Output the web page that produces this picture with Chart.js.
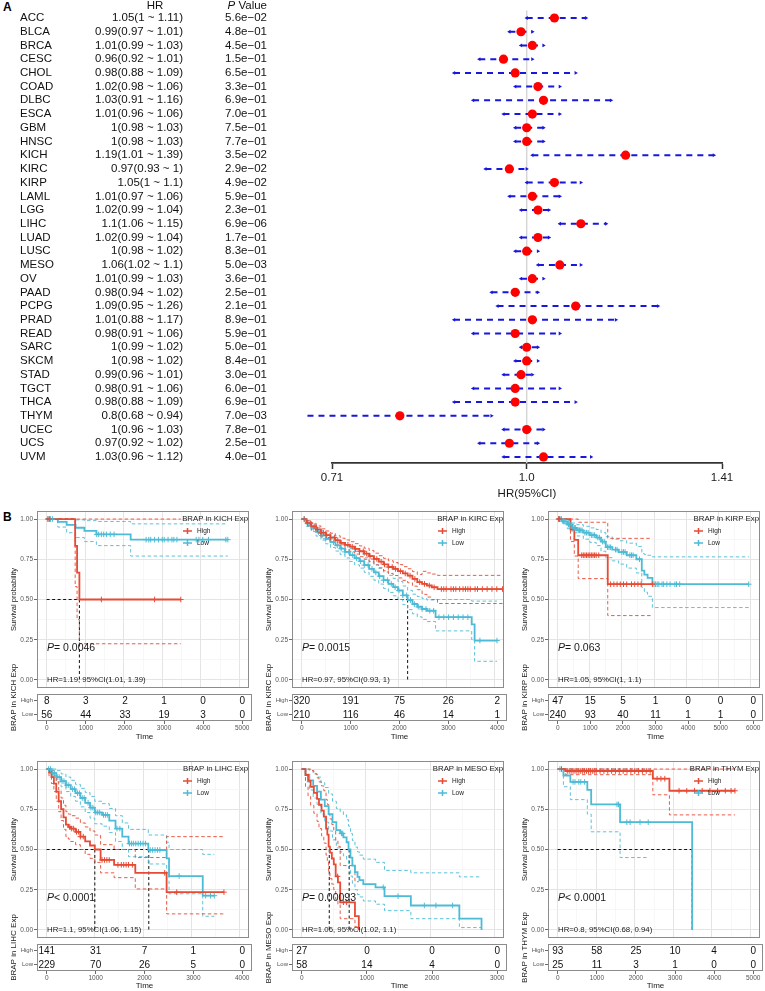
<!DOCTYPE html>
<html><head><meta charset="utf-8">
<script src="https://cdn.jsdelivr.net/npm/chart.js@4.4.1/dist/chart.umd.min.js"></script>
<style>
html,body{margin:0;padding:0;background:#fff;overflow:hidden;width:765px;height:991px;position:relative;}
.lab{position:absolute;font:bold 12px "Liberation Sans",Arial,sans-serif;color:#000;}
</style></head><body>
<div class="lab" style="left:3px;top:0px">A</div>
<div class="lab" style="left:3px;top:510px">B</div>
<script>
// ---------------- Forest plot data ----------------
const cancers = ['ACC','BLCA','BRCA','CESC','CHOL','COAD','DLBC','ESCA','GBM','HNSC','KICH','KIRC','KIRP','LAML','LGG','LIHC','LUAD','LUSC','MESO','OV','PAAD','PCPG','PRAD','READ','SARC','SKCM','STAD','TGCT','THCA','THYM','UCEC','UCS','UVM'];
const hr     = [1.05,0.99,1.01,0.96,0.98,1.02,1.03,1.01,1,1,1.19,0.97,1.05,1.01,1.02,1.1,1.02,1,1.06,1.01,0.98,1.09,1.01,0.98,1,1,0.99,0.98,0.98,0.8,1,0.97,1.03];
const ciLow  = [1,0.97,0.99,0.92,0.88,0.98,0.91,0.96,0.98,0.98,1.01,0.93,1,0.97,0.99,1.06,0.99,0.98,1.02,0.99,0.94,0.95,0.88,0.91,0.99,0.98,0.96,0.91,0.88,0.68,0.96,0.92,0.96];
const ciHigh = [1.11,1.01,1.03,1.01,1.09,1.06,1.16,1.06,1.03,1.03,1.39,1,1.1,1.06,1.04,1.15,1.04,1.02,1.1,1.03,1.02,1.26,1.17,1.06,1.02,1.02,1.01,1.06,1.09,0.94,1.03,1.02,1.12];
const pvals  = ['5.6e\u221202','4.8e\u221201','4.5e\u221201','1.5e\u221201','6.5e\u221201','3.3e\u221201','6.9e\u221201','7.0e\u221201','7.5e\u221201','7.7e\u221201','3.5e\u221202','2.9e\u221202','4.9e\u221202','5.9e\u221201','2.3e\u221201','6.9e\u221206','1.7e\u221201','8.3e\u221201','5.0e\u221203','3.6e\u221201','2.5e\u221201','2.1e\u221201','8.9e\u221201','5.9e\u221201','5.0e\u221201','8.4e\u221201','3.0e\u221201','6.0e\u221201','6.9e\u221201','7.0e\u221203','7.8e\u221201','2.5e\u221201','4.0e\u221201'];
const forestTicks = [0.71,1.0,1.41];
const forestTickLabels = ['0.71','1.0','1.41'];

// ---------------- KM survival data ----------------
const survTicks = [0,0.25,0.5,0.75,1];
const survTickLabels = ['0.00','0.25','0.50','0.75','1.00'];

// KICH
const kichTicks = [0,1000,2000,3000,4000,5000];
const kichRiskHigh = [8,3,2,1,0,0];
const kichRiskLow  = [56,44,33,19,3,0];
const kichHighTime  = [0,740,790,850,3480];
const kichHighSurv  = [1,0.833,0.667,0.5,0.5];
const kichHighUpper = [1,1,1,1,1];
const kichHighLower = [1,0.58,0.375,0.225,0.225];
const kichHighCens  = [30,70,1420,2800,3480];
const kichLowTime  = [0,290,520,750,980,1290,2180,4700];
const kichLowSurv  = [1,0.982,0.964,0.946,0.927,0.905,0.872,0.872];
const kichLowUpper = [1,1,1,0.995,0.99,0.985,0.97,0.97];
const kichLowLower = [1,0.95,0.915,0.885,0.86,0.835,0.77,0.77];
const kichLowCens  = [60,100,150,1300,1350,1420,1480,1550,1650,1750,2580,2650,2700,2800,2900,3000,3050,3150,3250,3300,3380,3880,3950,4050,4200,4650,4700];
const kichMedian = [850];

// KIRC
const kircTicks = [0,1000,2000,3000,4000];
const kircRiskHigh = [320,191,75,26,2];
const kircRiskLow  = [210,116,46,14,1];
const kircHighTime  = [0,100,200,300,400,500,600,700,800,900,1000,1100,1200,1300,1400,1500,1600,1700,1800,1900,2000,2100,2200,2300,2400,2500,2600,2700,2820,4170];
const kircHighSurv  = [1,0.975,0.955,0.935,0.915,0.9,0.885,0.868,0.852,0.84,0.828,0.815,0.8,0.785,0.77,0.752,0.735,0.718,0.702,0.69,0.676,0.662,0.648,0.628,0.608,0.597,0.587,0.576,0.565,0.565];
const kircHighUpper = [1,0.99,0.975,0.957,0.939,0.926,0.912,0.896,0.881,0.87,0.859,0.847,0.833,0.819,0.805,0.788,0.772,0.756,0.741,0.73,0.717,0.704,0.691,0.673,0.655,0.675,0.665,0.658,0.65,0.65];
const kircHighLower = [1,0.958,0.934,0.912,0.89,0.873,0.857,0.839,0.822,0.809,0.796,0.782,0.766,0.75,0.734,0.715,0.697,0.679,0.662,0.649,0.634,0.619,0.604,0.583,0.561,0.532,0.515,0.5,0.475,0.475];
const kircHighCens  = [50,120,180,260,330,400,450,520,600,680,750,820,900,960,1050,1120,1200,1280,1350,1420,1500,1560,1650,1720,1800,1880,1950,2050,2150,2250,2350,2450,2550,2650,2750,2900,2950,3000,3100,3150,3200,3280,3350,3400,3450,3500,3600,3650,3750,3850,3950,4050,4170];
const kircLowTime  = [0,100,200,300,400,500,600,700,800,900,1000,1100,1200,1300,1400,1500,1600,1700,1800,1900,2000,2100,2200,2300,2400,2500,2600,2780,3530,3590,4055];
const kircLowSurv  = [1,0.972,0.945,0.92,0.898,0.877,0.856,0.836,0.816,0.796,0.776,0.757,0.738,0.714,0.69,0.668,0.645,0.62,0.597,0.577,0.556,0.526,0.497,0.472,0.455,0.441,0.43,0.39,0.345,0.245,0.245];
const kircLowUpper = [1,0.99,0.968,0.946,0.927,0.908,0.889,0.871,0.853,0.834,0.816,0.799,0.781,0.759,0.736,0.716,0.694,0.671,0.65,0.631,0.612,0.584,0.557,0.533,0.518,0.506,0.497,0.5,0.49,0.49,0.49];
const kircLowLower = [1,0.954,0.922,0.894,0.869,0.846,0.823,0.801,0.779,0.758,0.736,0.715,0.695,0.669,0.644,0.62,0.596,0.569,0.544,0.523,0.5,0.468,0.437,0.411,0.392,0.376,0.363,0.305,0.25,0.116,0.116];
const kircLowCens  = [60,150,250,350,420,500,580,660,740,820,900,980,1060,1140,1220,1300,1380,1460,1540,1620,1700,1780,1860,1940,2020,2100,2180,2260,2340,2420,2500,2580,2660,2740,2850,2950,3050,3150,3250,3350,3450,3700,4055];
const kircMedian = [2200];

// KIRP
const kirpTicks = [0,1000,2000,3000,4000,5000,6000];
const kirpRiskHigh = [47,15,5,1,0,0,0];
const kirpRiskLow  = [240,93,40,11,1,1,0];
const kirpHighTime  = [0,400,520,640,1560,2950];
const kirpHighSurv  = [1,0.935,0.87,0.775,0.595,0.595];
const kirpHighUpper = [1,1,1,0.98,0.88,0.88];
const kirpHighLower = [1,0.86,0.77,0.63,0.4,0.4];
const kirpHighCens  = [30,60,750,800,850,900,950,1000,1050,1100,1150,1200,1280,1650,1750,1850,1950,2050,2150,2300,2400,2500,2600,2950];
const kirpLowTime  = [0,150,300,450,600,800,1000,1200,1350,1500,1700,1900,2150,2450,2620,2700,2800,2950,5950];
const kirpLowSurv  = [1,0.985,0.965,0.945,0.93,0.915,0.9,0.885,0.86,0.825,0.81,0.795,0.775,0.75,0.68,0.655,0.635,0.595,0.595];
const kirpLowUpper = [1,1,0.99,0.975,0.965,0.955,0.945,0.935,0.915,0.89,0.875,0.865,0.85,0.83,0.785,0.78,0.775,0.765,0.765];
const kirpLowLower = [1,0.97,0.94,0.915,0.895,0.875,0.855,0.835,0.8,0.76,0.74,0.72,0.695,0.665,0.575,0.545,0.52,0.45,0.45];
const kirpLowCens  = [40,80,120,180,220,260,340,380,420,480,520,560,640,680,720,760,850,900,950,1050,1100,1150,1250,1300,1400,1450,1550,1600,1650,1800,1850,2000,2050,2100,2250,2300,2350,2550,3000,3050,3100,3150,3250,3300,3400,3500,3650,3700,3800,5950];
const kirpMedian = [];

// LIHC
const lihcTicks = [0,1000,2000,3000,4000];
const lihcRiskHigh = [141,31,7,1,0];
const lihcRiskLow  = [229,70,26,5,0];
const lihcHighTime  = [0,50,100,150,200,250,300,350,400,450,500,600,700,800,900,1000,1120,1400,1840,2490,3680];
const lihcHighSurv  = [1,0.98,0.95,0.91,0.86,0.8,0.75,0.7,0.655,0.64,0.63,0.61,0.58,0.55,0.525,0.5,0.435,0.405,0.355,0.235,0.235];
const lihcHighUpper = [1,1,0.99,0.96,0.92,0.87,0.82,0.775,0.735,0.72,0.71,0.695,0.665,0.64,0.615,0.59,0.53,0.5,0.45,0.58,0.58];
const lihcHighLower = [1,0.955,0.91,0.86,0.8,0.735,0.68,0.625,0.58,0.565,0.55,0.53,0.5,0.47,0.445,0.42,0.355,0.325,0.255,0.1,0.1];
const lihcHighCens  = [480,520,560,620,660,700,760,1150,1200,1250,1300,1480,1550,1600,1650,1700,1780,2450,2700,3680];
const lihcLowTime  = [0,100,200,300,400,500,600,700,800,900,1000,1150,1300,1430,1570,1700,2110,2490,2540,3240,3480];
const lihcLowSurv  = [1,0.975,0.95,0.925,0.9,0.875,0.85,0.82,0.79,0.76,0.73,0.715,0.68,0.63,0.58,0.537,0.497,0.445,0.335,0.213,0.213];
const lihcLowUpper = [1,1,0.99,0.97,0.95,0.93,0.905,0.88,0.855,0.83,0.8,0.785,0.755,0.71,0.665,0.625,0.59,0.545,0.5,0.47,0.47];
const lihcLowLower = [1,0.955,0.92,0.89,0.86,0.83,0.8,0.765,0.73,0.695,0.66,0.645,0.605,0.55,0.5,0.455,0.41,0.355,0.225,0.085,0.085];
const lihcLowCens  = [40,80,120,160,220,260,320,360,420,460,540,580,640,680,740,780,860,920,960,1020,1060,1100,1180,1220,1260,1460,1520,1720,1760,1800,1850,1900,1950,2000,2050,2150,2200,2250,2300,2350,2750,3300,3400,3480];
const lihcMedian = [1000,2120];

// MESO
const mesoTicks = [0,1000,2000,3000];
const mesoRiskHigh = [27,0,0,0];
const mesoRiskLow  = [58,14,4,0];
const mesoHighTime  = [0,60,100,140,190,240,270,310,345,380,400,420,440,470,500,530,565,600,830,890];
const mesoHighSurv  = [1,0.963,0.926,0.889,0.852,0.815,0.778,0.741,0.704,0.63,0.593,0.518,0.481,0.444,0.407,0.333,0.296,0.172,0.086,0];
const mesoHighUpper = [1,1,1,0.99,0.97,0.945,0.92,0.895,0.865,0.81,0.78,0.72,0.69,0.655,0.62,0.555,0.52,0.4,0.3,0.3];
const mesoHighLower = [1,0.89,0.83,0.775,0.725,0.675,0.63,0.585,0.54,0.465,0.425,0.355,0.32,0.285,0.25,0.19,0.16,0.07,0.02,0.02];
const mesoHighCens  = [560,650,700];
const mesoLowTime  = [0,60,120,180,240,300,360,420,480,540,600,650,700,730,760,790,830,870,900,960,1150,1290,1700,2455,2800];
const mesoLowSurv  = [1,0.965,0.93,0.895,0.86,0.81,0.77,0.72,0.67,0.62,0.6,0.575,0.545,0.5,0.45,0.4,0.36,0.33,0.31,0.285,0.265,0.21,0.152,0.071,0];
const mesoLowUpper = [1,1,0.99,0.97,0.95,0.915,0.885,0.845,0.8,0.755,0.735,0.715,0.685,0.645,0.6,0.555,0.515,0.485,0.465,0.44,0.42,0.37,0.355,0.33,0.33];
const mesoLowLower = [1,0.92,0.87,0.82,0.78,0.72,0.67,0.615,0.56,0.51,0.485,0.46,0.43,0.385,0.335,0.29,0.25,0.22,0.205,0.18,0.16,0.12,0.07,0.015,0.015];
const mesoLowCens  = [620,640,1270,1500,1910,2090,2350];
const mesoMedian = [430,740];

// THYM
const thymTicks = [0,1000,2000,3000,4000,5000];
const thymRiskHigh = [93,58,25,10,4,0];
const thymRiskLow  = [25,11,3,1,0,0];
const thymHighTime  = [0,200,2470,2900,4600];
const thymHighSurv  = [1,0.988,0.94,0.865,0.865];
const thymHighUpper = [1,1,1,1,1];
const thymHighLower = [1,0.965,0.84,0.715,0.715];
const thymHighCens  = [100,250,300,350,400,450,500,550,600,650,700,750,800,850,900,950,1000,1100,1200,1300,1400,1500,1600,1700,1800,1900,2000,2100,2200,2300,2400,2580,2680,2780,3150,3350,3550,3750,3950,4150,4350,4500,4600];
const thymLowTime  = [0,150,330,770,870,1620,3490];
const thymLowSurv  = [1,0.96,0.92,0.87,0.78,0.67,0];
const thymLowCiTime = [0,150,330,770,870,1620,2370];
const thymLowUpper = [1,1,1,1,1,1,1];
const thymLowLower = [1,0.89,0.81,0.72,0.61,0.45,0.45];
const thymLowCens  = [60,400,450,550,600,700,1540,1580,1795,1880,2137,2350];
const thymMedian = [3490];

const kmPText = ['= 0.0046','= 0.0015','= 0.063','< 0.0001','= 0.00093','< 0.0001'];

// ---------------- styling / helpers ----------------
const RED = '#E64B35', BLUE = '#4DBBD5', CIBLUE = '#1717dd';
const FONT = '"Liberation Sans", Arial, Helvetica, sans-serif';
Chart.defaults.font.family = FONT;
Chart.defaults.color = '#1a1a1a';

function mkCanvas(left, top, w, h){
  const c = document.createElement('canvas');
  c.width = w; c.height = h;
  c.style.cssText = `position:absolute;left:${left}px;top:${top}px;width:${w}px;height:${h}px;`;
  document.body.appendChild(c);
  return c;
}
function survAt(t, s, x){ let v = s[0]; for (let i=0;i<t.length;i++){ if (t[i] <= x) v = s[i]; } return v; }

// ---------------- Forest plot ----------------
const forestText = {
  id:'forestText',
  afterDraw(chart){
    const ctx = chart.ctx, ys = chart.scales.y;
    ctx.save();
    ctx.fillStyle = '#111';
    ctx.font = '11.5px ' + FONT;
    ctx.textBaseline = 'middle';
    cancers.forEach((c,i)=>{
      const y = ys.getPixelForValue(i);
      ctx.textAlign = 'left';  ctx.fillText(c, 20, y);
      ctx.textAlign = 'right'; ctx.fillText(`${hr[i]}(${ciLow[i]} ~ ${ciHigh[i]})`, 183, y);
      ctx.fillText(pvals[i], 267, y);
    });
    const hy = 5.5;
    ctx.textAlign = 'center'; ctx.fillText('HR', 155, hy);
    ctx.textAlign = 'left';
    const w2 = ctx.measureText(' Value').width;
    ctx.font = 'italic 11.5px ' + FONT;
    const w1 = ctx.measureText('P').width;
    const x0 = 267 - w1 - w2;
    ctx.fillText('P', x0, hy);
    ctx.font = '11.5px ' + FONT;
    ctx.fillText(' Value', x0 + w1, hy);
    ctx.restore();
  }
};

const forestDatasets = [
  {data: hr.map((v,i)=>({x:v,y:i})), showLine:false, pointRadius:4.6, pointBackgroundColor:'#ff0000', pointBorderWidth:0, order:0, clip:false}
];
cancers.forEach((c,i)=>forestDatasets.push({
  data:[{x:ciLow[i],y:i},{x:ciHigh[i],y:i}], showLine:true, borderColor:CIBLUE, borderWidth:2, borderDash:[6,5],
  pointRadius:2.2, pointStyle:'triangle', pointRotation:[-90,90], pointBackgroundColor:CIBLUE, pointBorderWidth:0, order:1, clip:false
}));
forestDatasets.push({data:[{x:1,y:-0.55},{x:1,y:32.44}], showLine:true, borderColor:'#d6d6d6', borderWidth:1.5, pointRadius:0, order:2});

new Chart(mkCanvas(0,0,765,505), {
  type:'line',
  data:{datasets:forestDatasets},
  options:{
    responsive:false, animation:false, events:[], devicePixelRatio:1,
    layout:{padding:{left:332,right:43,top:8,bottom:0}},
    plugins:{legend:{display:false},tooltip:{enabled:false}},
    scales:{
      x:{type:'logarithmic', min:0.71, max:1.41, position:'bottom',
        afterBuildTicks:s=>{ s.ticks = forestTicks.map(v=>({value:v})); },
        afterFit:s=>{ s.height = 42; },
        ticks:{autoSkip:false, maxRotation:0, padding:2, font:{size:11.5}, color:'#1a1a1a', callback:(v,i)=>forestTickLabels[i]},
        grid:{display:true, drawOnChartArea:false, drawTicks:true, tickLength:6, color:'#333', tickWidth:1.5},
        border:{display:true, color:'#333', width:1.8},
        title:{display:true, text:'HR(95%CI)', font:{size:11.5}, color:'#1a1a1a', padding:{top:0,bottom:4}}
      },
      y:{type:'linear', min:-0.73, max:32.44, reverse:true, display:false}
    }
  },
  plugins:[forestText]
});

// ---------------- KM panels ----------------
const kmDeco = {
  id:'kmDeco',
  afterDraw(chart){
    const o = chart.options.plugins.kmDeco; if (!o) return;
    const ctx = chart.ctx, a = chart.chartArea;
    ctx.save();
    ctx.strokeStyle = '#8c8c8c'; ctx.lineWidth = 1;
    ctx.strokeRect(a.left+0.5, a.top+0.5, a.right-a.left-1, a.bottom-a.top-1);
    ctx.textBaseline = 'middle';
    if (o.kind === 'surv'){
      const ys = chart.scales.y;
      ctx.fillStyle = '#1a1a1a';
      ctx.font = '7.8px ' + FONT; ctx.textAlign = 'right';
      ctx.fillText(o.title, a.right-1, a.top+8);
      [['High',RED,20],['Low',BLUE,32]].forEach(([lab,col,dy])=>{
        const y = a.top + dy;
        ctx.strokeStyle = col; ctx.lineWidth = 1.5;
        ctx.beginPath(); ctx.moveTo(a.right-66,y); ctx.lineTo(a.right-57,y);
        ctx.moveTo(a.right-61.5,y-3); ctx.lineTo(a.right-61.5,y+3); ctx.stroke();
        ctx.fillStyle = '#1a1a1a'; ctx.textAlign = 'left'; ctx.font = '6.5px ' + FONT;
        ctx.fillText(lab, a.right-52, y);
      });
      const py = ys.getPixelForValue(0.2);
      ctx.textAlign = 'left';
      ctx.font = 'italic 10.5px ' + FONT; ctx.fillText('P', a.left+10, py);
      const w = ctx.measureText('P').width;
      ctx.font = '10.5px ' + FONT; ctx.fillText(o.p, a.left+10+w, py);
      ctx.font = '7.8px ' + FONT; ctx.fillText(o.hr, a.left+10, ys.getPixelForValue(0));
    } else {
      // risk numbers
      ctx.fillStyle = '#111'; ctx.font = '10px ' + FONT; ctx.textAlign = 'center';
      chart.data.datasets.forEach((ds,di)=>{
        const meta = chart.getDatasetMeta(di);
        meta.data.forEach((pt,i)=>ctx.fillText(String(ds.data[i].v), pt.x, pt.y+0.5));
      });
      // rotated group title
      ctx.save();
      ctx.translate(14, (a.top+a.bottom)/2 - 10);
      ctx.rotate(-Math.PI/2);
      ctx.font = '8px ' + FONT; ctx.fillStyle = '#1a1a1a'; ctx.textAlign = 'center';
      ctx.fillText(o.title, 0, 0);
      ctx.restore();
    }
    ctx.restore();
  }
};

function grp(t,s,u,l,c,ct){ return {t,s,u,l,c,ct}; }
const panels = [
  {name:'KICH', col:0, row:0, xmin:-250, xmax:5250, ticks:kichTicks, med:kichMedian, rH:kichRiskHigh, rL:kichRiskLow,
   high:grp(kichHighTime,kichHighSurv,kichHighUpper,kichHighLower,kichHighCens), low:grp(kichLowTime,kichLowSurv,kichLowUpper,kichLowLower,kichLowCens)},
  {name:'KIRC', col:1, row:0, xmin:-200, xmax:4200, ticks:kircTicks, med:kircMedian, rH:kircRiskHigh, rL:kircRiskLow,
   high:grp(kircHighTime,kircHighSurv,kircHighUpper,kircHighLower,kircHighCens), low:grp(kircLowTime,kircLowSurv,kircLowUpper,kircLowLower,kircLowCens)},
  {name:'KIRP', col:2, row:0, xmin:-300, xmax:6300, ticks:kirpTicks, med:kirpMedian, rH:kirpRiskHigh, rL:kirpRiskLow,
   high:grp(kirpHighTime,kirpHighSurv,kirpHighUpper,kirpHighLower,kirpHighCens), low:grp(kirpLowTime,kirpLowSurv,kirpLowUpper,kirpLowLower,kirpLowCens)},
  {name:'LIHC', col:0, row:1, xmin:-200, xmax:4200, ticks:lihcTicks, med:lihcMedian, rH:lihcRiskHigh, rL:lihcRiskLow,
   high:grp(lihcHighTime,lihcHighSurv,lihcHighUpper,lihcHighLower,lihcHighCens), low:grp(lihcLowTime,lihcLowSurv,lihcLowUpper,lihcLowLower,lihcLowCens)},
  {name:'MESO', col:1, row:1, xmin:-150, xmax:3150, ticks:mesoTicks, med:mesoMedian, rH:mesoRiskHigh, rL:mesoRiskLow,
   high:grp(mesoHighTime,mesoHighSurv,mesoHighUpper,mesoHighLower,mesoHighCens), low:grp(mesoLowTime,mesoLowSurv,mesoLowUpper,mesoLowLower,mesoLowCens)},
  {name:'THYM', col:2, row:1, xmin:-250, xmax:5250, ticks:thymTicks, med:thymMedian, rH:thymRiskHigh, rL:thymRiskLow,
   high:grp(thymHighTime,thymHighSurv,thymHighUpper,thymHighLower,thymHighCens), low:grp(thymLowTime,thymLowSurv,thymLowUpper,thymLowLower,thymLowCens,thymLowCiTime)}
];

const colLeft = [0,255,511];
const survTop = [505,755];
const riskTop = [640,890];
const timeTitlePad = [3.2,4.2];

panels.forEach((p,pi)=>{
  const left = colLeft[p.col];
  const ds = [];
  const groups = [[p.high,RED],[p.low,BLUE]];
  groups.forEach(([g,col])=>ds.push({data:g.c.map(x=>({x, y:survAt(g.t,g.s,x)})), showLine:false, pointStyle:'cross',
    pointRadius:2.8, pointBorderColor:col, pointBackgroundColor:col, pointBorderWidth:1, order:0}));
  groups.forEach(([g,col])=>ds.push({data:g.t.map((x,i)=>({x, y:g.s[i]})), stepped:true, borderColor:col, borderWidth:1.8,
    pointRadius:0, fill:false, order:1}));
  groups.forEach(([g,col])=>{
    const ct = g.ct || g.t;
    [g.u, g.l].forEach(arr=>ds.push({data:ct.map((x,i)=>({x, y:arr[i]})), stepped:true, borderColor:col, borderWidth:0.9,
      borderDash:[3.5,2.5], pointRadius:0, fill:false, order:2}));
  });
  if (p.med.length){
    const mx = Math.max(...p.med);
    ds.push({data:[{x:0,y:0.5},{x:mx,y:0.5}], borderColor:'#111', borderWidth:1, borderDash:[3,2.5], pointRadius:0, order:3});
    p.med.forEach(m=>ds.push({data:[{x:m,y:0.5},{x:m,y:0}], borderColor:'#111', borderWidth:1, borderDash:[3,2.5], pointRadius:0, order:3}));
  }
  const xGrid = [];
  p.ticks.forEach((t,i)=>{ xGrid.push(t); if (i < p.ticks.length-1) xGrid.push((t + p.ticks[i+1])/2); });
  const yGrid = [];
  survTicks.forEach((t,i)=>{ yGrid.push(t); if (i < survTicks.length-1) yGrid.push((t + survTicks[i+1])/2); });
  const ci = cancers.indexOf(p.name);

  new Chart(mkCanvas(left, survTop[p.row], 254, 188), {
    type:'line',
    data:{datasets:ds},
    options:{
      responsive:false, animation:false, events:[], devicePixelRatio:1,
      layout:{padding:{left:0,right:2,top:6,bottom:2}},
      plugins:{legend:{display:false}, tooltip:{enabled:false},
        kmDeco:{kind:'surv', title:`BRAP in ${p.name} Exp`, p:kmPText[pi], hr:`HR=${hr[ci]}, 95%CI(${ciLow[ci]}, ${ciHigh[ci]})`}},
      scales:{
        x:{type:'linear', min:p.xmin, max:p.xmax,
          afterBuildTicks:s=>{ s.ticks = xGrid.map(v=>({value:v})); },
          afterFit:s=>{ s.height = 0; },
          ticks:{display:false},
          grid:{drawTicks:false, color:c=>p.ticks.includes(c.tick.value)?'#e4e4e4':'#f2f2f2', lineWidth:c=>p.ticks.includes(c.tick.value)?1:0.6},
          border:{display:false}
        },
        y:{type:'linear', min:-0.05, max:1.05,
          afterBuildTicks:s=>{ s.ticks = yGrid.map(v=>({value:v})); },
          afterFit:s=>{ s.width = 37; },
          ticks:{autoSkip:false, font:{size:6.5}, color:'#555', padding:1,
            callback:v=>{ const k = survTicks.indexOf(v); return k>=0 ? survTickLabels[k] : ''; }},
          grid:{drawTicks:true, tickLength:3, tickWidth:0.8,
            tickColor:c=>survTicks.includes(c.tick.value)?'#444':'rgba(0,0,0,0)',
            color:c=>survTicks.includes(c.tick.value)?'#e4e4e4':'#f2f2f2',
            lineWidth:c=>survTicks.includes(c.tick.value)?1:0.6},
          border:{display:false},
          title:{display:true, text:'Survival probability', font:{size:7.5}, color:'#1a1a1a', padding:{top:9.5,bottom:0}}
        }
      }
    },
    plugins:[kmDeco]
  });

  // risk table
  new Chart(mkCanvas(left, riskTop[p.row], 254, 105), {
    type:'line',
    data:{datasets:[
      {data:p.ticks.map((x,i)=>({x, y:'High', v:p.rH[i]})), showLine:false, pointRadius:0},
      {data:p.ticks.map((x,i)=>({x, y:'Low',  v:p.rL[i]})), showLine:false, pointRadius:0}
    ]},
    options:{
      responsive:false, animation:false, events:[], devicePixelRatio:1,
      layout:{padding:{left:0,right:2,top:54,bottom:0}},
      plugins:{legend:{display:false}, tooltip:{enabled:false}, kmDeco:{kind:'risk', title:`BRAP in ${p.name} Exp`}},
      scales:{
        x:{type:'linear', min:p.xmin, max:p.xmax,
          afterBuildTicks:s=>{ s.ticks = p.ticks.map(v=>({value:v})); },
          afterFit:s=>{ s.height = 24; },
          ticks:{autoSkip:false, maxRotation:0, font:{size:6.5}, color:'#555', padding:0, callback:v=>String(v)},
          grid:{drawOnChartArea:false, drawTicks:true, tickLength:3, color:'#444', tickWidth:0.8},
          border:{display:false},
          title:{display:true, text:'Time', font:{size:8}, color:'#1a1a1a', padding:{top:0,bottom:timeTitlePad[p.row]}}
        },
        y:{type:'category', labels:['High','Low'], offset:true,
          afterFit:s=>{ s.width = 37; },
          ticks:{font:{size:6}, color:'#555', padding:1},
          grid:{drawOnChartArea:false, drawTicks:true, tickLength:3, color:'#444', tickWidth:0.8},
          border:{display:false}
        }
      }
    },
    plugins:[kmDeco]
  });
});
</script>
</body></html>
